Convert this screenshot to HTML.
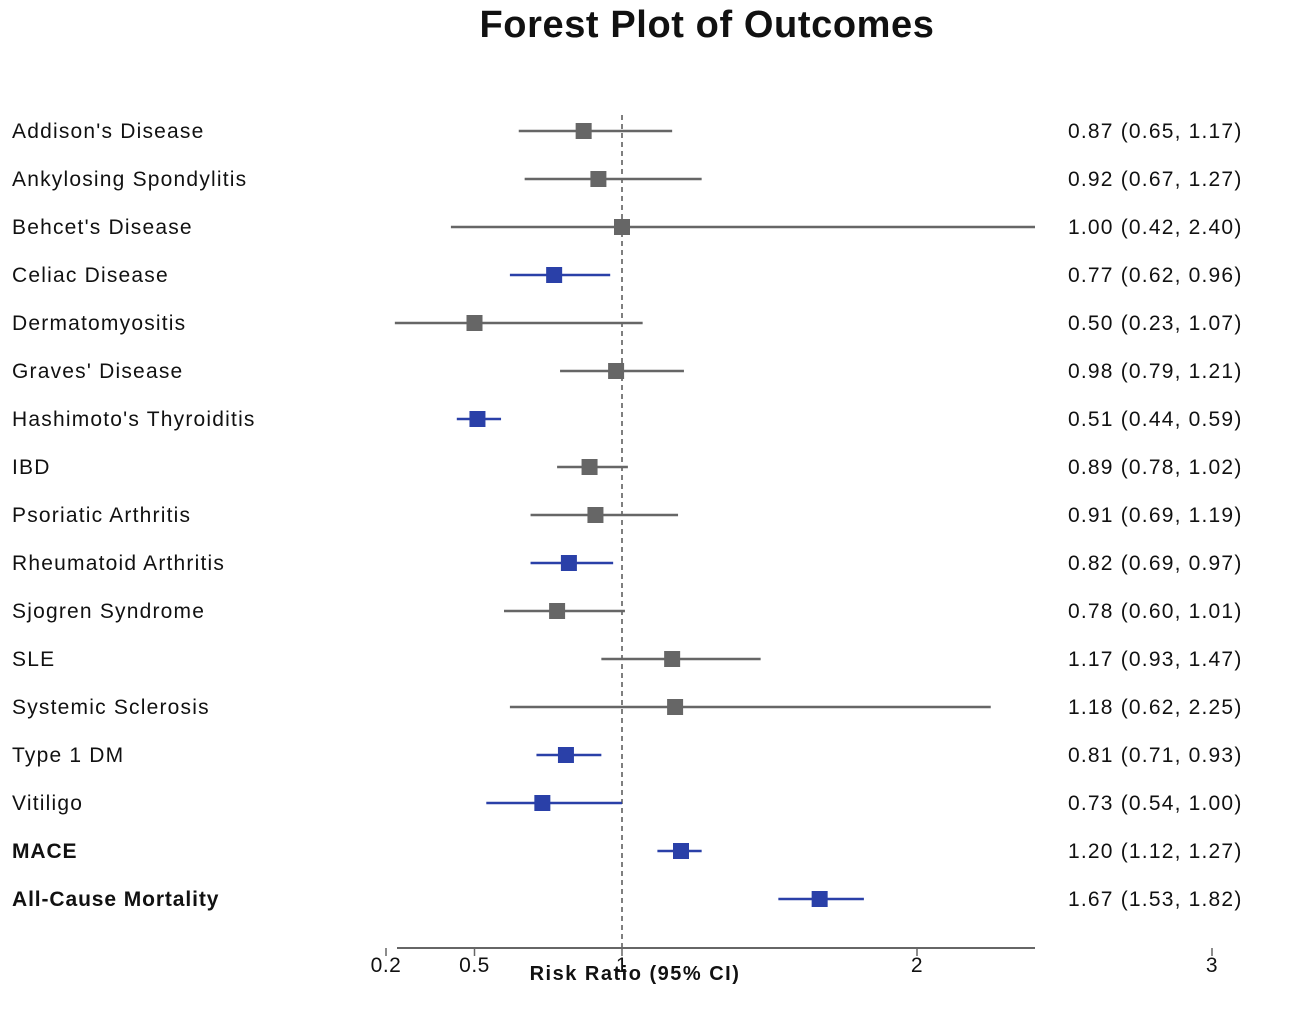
<!DOCTYPE html>
<html><head><meta charset="utf-8"><style>
body{margin:0;background:#fff;width:1296px;height:1020px;overflow:hidden;font-family:"Liberation Sans",sans-serif}
</style></head><body>
<svg width="1296" height="1020" xmlns="http://www.w3.org/2000/svg" font-family="Liberation Sans, sans-serif">
<text x="707" y="37" text-anchor="middle" font-size="38" font-weight="bold" letter-spacing="0.6" fill="#111">Forest Plot of Outcomes</text>
<g id="plot"></g>
</svg>
<script>
const labels=["Addison's Disease","Ankylosing Spondylitis","Behcet's Disease","Celiac Disease","Dermatomyositis","Graves' Disease","Hashimoto's Thyroiditis","IBD","Psoriatic Arthritis","Rheumatoid Arthritis","Sjogren Syndrome","SLE","Systemic Sclerosis","Type 1 DM","Vitiligo","MACE","All-Cause Mortality"];
const est=[0.87,0.92,1.00,0.77,0.50,0.98,0.51,0.89,0.91,0.82,0.78,1.17,1.18,0.81,0.73,1.20,1.67];
const lo=[0.65,0.67,0.42,0.62,0.23,0.79,0.44,0.78,0.69,0.69,0.60,0.93,0.62,0.71,0.54,1.12,1.53];
const hi=[1.17,1.27,2.40,0.96,1.07,1.21,0.59,1.02,1.19,0.97,1.01,1.47,2.25,0.93,1.00,1.27,1.82];
const sig=[0,0,0,1,0,0,1,0,0,1,0,0,0,1,1,1,1];
const bold=[0,0,0,0,0,0,0,0,0,0,0,0,0,0,0,1,1];
const ticks=[0.2,0.5,1,2,3];
const NS="http://www.w3.org/2000/svg";
const g=document.getElementById('plot');
const x=v=>622+(v-1)*295;
const y=i=>131+i*48;
function mk(t,a,p){const e=document.createElementNS(NS,t);for(const k in a)e.setAttribute(k,a[k]);(p||g).appendChild(e);return e;}
let d=mk('line',{x1:x(1),x2:x(1),y1:115,y2:948,stroke:'#555','stroke-width':1.5,'stroke-dasharray':'5,4'});


labels.forEach((l,i)=>{
 const c=sig[i]?'#2a40a8':'#666';
 const r=mk('g',{});
 
 
 const t=mk('text',{x:12,y:y(i)+7,'font-size':21,'letter-spacing':bold[i]?0.9:1.2,fill:'#111','font-weight':bold[i]?'bold':'normal'},r);t.textContent=l;
 
 
 const ci=mk('line',{x1:x(lo[i]),x2:x(hi[i]),y1:y(i),y2:y(i),stroke:c,'stroke-width':2.5},r);
 
 
 const s=mk('rect',{x:x(est[i])-8,y:y(i)-8,width:16,height:16,fill:c},r);
 
 
 const v=mk('text',{x:1068,y:y(i)+7,'font-size':21,'letter-spacing':1.2,fill:'#111'},r);
 v.textContent=est[i].toFixed(2)+' ('+lo[i].toFixed(2)+', '+hi[i].toFixed(2)+')';
 
 
});
const ax=mk('line',{x1:397,x2:1035,y1:948,y2:948,stroke:'#666','stroke-width':2});


ticks.forEach(tv=>{
 const tk=mk('line',{x1:x(tv),x2:x(tv),y1:948,y2:956,stroke:'#666','stroke-width':1.5});
 
 
 const tl=mk('text',{x:x(tv),y:972,'text-anchor':'middle','font-size':21,'letter-spacing':0.5,fill:'#111'});
 tl.textContent=tv;
 
 
});
const at=mk('text',{x:635,y:980,'text-anchor':'middle','font-size':20,'font-weight':'bold','letter-spacing':1.5,fill:'#111'});
at.textContent='Risk Ratio (95% CI)';


</script>
</body></html>
